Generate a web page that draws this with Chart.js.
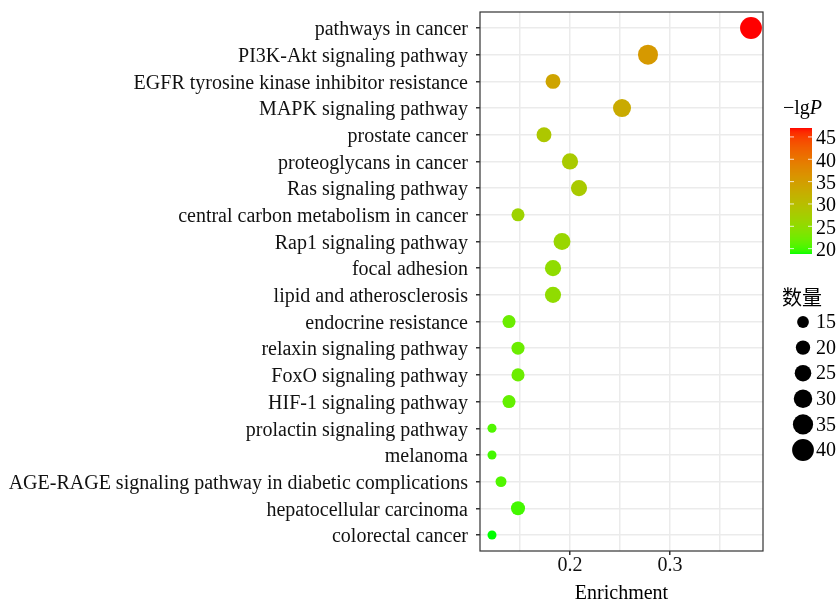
<!DOCTYPE html>
<html>
<head>
<meta charset="utf-8">
<script src="https://cdn.jsdelivr.net/npm/chart.js@4/dist/chart.umd.min.js"></script>
<style>
    html, body { margin: 0; padding: 0; background: #fff; }
    #wrap { width: 836px; height: 601px; }
</style>
</head>
<body>
<div id="wrap"><canvas id="dotChart" width="836" height="601"></canvas></div>
<script>
// ===== DATA =====
const categories = [
    "pathways in cancer",
    "PI3K-Akt signaling pathway",
    "EGFR tyrosine kinase inhibitor resistance",
    "MAPK signaling pathway",
    "prostate cancer",
    "proteoglycans in cancer",
    "Ras signaling pathway",
    "central carbon metabolism in cancer",
    "Rap1 signaling pathway",
    "focal adhesion",
    "lipid and atherosclerosis",
    "endocrine resistance",
    "relaxin signaling pathway",
    "FoxO signaling pathway",
    "HIF-1 signaling pathway",
    "prolactin signaling pathway",
    "melanoma",
    "AGE-RAGE signaling pathway in diabetic complications",
    "hepatocellular carcinoma",
    "colorectal cancer"
];

const enrichment = [0.381, 0.278, 0.183, 0.252, 0.174, 0.200, 0.209, 0.148, 0.192, 0.183,
                    0.183, 0.139, 0.148, 0.148, 0.139, 0.122, 0.122, 0.131, 0.148, 0.122];

const lgP = [47, 35.5, 34, 33, 28.5, 28, 28, 26.5, 26, 25,
             25, 22, 22, 22, 21.5, 20.5, 20, 20.5, 20, 18.8];

const counts = [43, 37, 23, 31, 23, 26, 26, 19, 28, 26,
                26, 19, 19, 19, 19, 12, 12, 15, 21, 12];

const xTicks = [0.2, 0.3];
const xMinorTicks = [0.15, 0.25, 0.35];
const xRange = [0.11, 0.393];

const colorBreaks = [20, 25, 30, 35, 40, 45];
const colorRange = [18.8, 47];
const sizeBreaks = [15, 20, 25, 30, 35, 40];

// ===== COLOUR / SIZE MAPPING =====
function toLinear(c) { c /= 255; return c <= 0.04045 ? c / 12.92 : Math.pow((c + 0.055) / 1.055, 2.4); }
function fromLinear(c) { const v = c <= 0.0031308 ? 12.92 * c : 1.055 * Math.pow(c, 1 / 2.4) - 0.055; return Math.round(Math.min(1, Math.max(0, v)) * 255); }

function rgbToLab(rgb) {
    const [r, g, b] = rgb.map(toLinear);
    let x = (r * 0.4124 + g * 0.3576 + b * 0.1805) / 0.95047;
    let y = (r * 0.2126 + g * 0.7152 + b * 0.0722);
    let z = (r * 0.0193 + g * 0.1192 + b * 0.9505) / 1.08883;
    const f = t => t > 0.008856 ? Math.cbrt(t) : 7.787 * t + 16 / 116;
    x = f(x); y = f(y); z = f(z);
    return [116 * y - 16, 500 * (x - y), 200 * (y - z)];
}

function labToRgb(lab) {
    const [L, a, bb] = lab;
    const fy = (L + 16) / 116, fx = fy + a / 500, fz = fy - bb / 200;
    const inv = t => t * t * t > 0.008856 ? t * t * t : (t - 16 / 116) / 7.787;
    const x = inv(fx) * 0.95047, y = inv(fy), z = inv(fz) * 1.08883;
    const r = x * 3.2406 + y * -1.5372 + z * -0.4986;
    const g = x * -0.9689 + y * 1.8758 + z * 0.0415;
    const b = x * 0.0557 + y * -0.2040 + z * 1.0570;
    return `rgb(${fromLinear(r)},${fromLinear(g)},${fromLinear(b)})`;
}

const labLow = rgbToLab([0, 255, 0]);
const labHigh = rgbToLab([255, 0, 0]);

function colourFor(v) {
    let t = (v - colorRange[0]) / (colorRange[1] - colorRange[0]);
    t = Math.min(1, Math.max(0, t));
    return labToRgb(labLow.map((l, i) => l + (labHigh[i] - l) * t));
}

function radiusFor(n) {
    return Math.sqrt(Math.max(4, 30 + 3.2 * (n - 15)));
}

const FONT = "'Liberation Serif'";

// ===== PLUGINS =====
const panelBorder = {
    id: "panelBorder",
    afterDatasetsDraw(chart) {
        const { ctx, chartArea: a } = chart;
        ctx.save();
        ctx.strokeStyle = "#333333";
        ctx.lineWidth = 1.2;
        ctx.strokeRect(a.left, a.top, a.right - a.left, a.bottom - a.top);
        ctx.restore();
    }
};

const legends = {
    id: "legends",
    afterDraw(chart) {
        const ctx = chart.ctx;
        ctx.save();
        ctx.fillStyle = "#000";
        ctx.textBaseline = "middle";

        // colour bar
        const barX = 790, barW = 22, barTop = 128, barBottom = 254;
        ctx.font = "20px " + FONT;
        ctx.fillText("\u2212lg", 783, 109);
        const w = ctx.measureText("\u2212lg").width;
        ctx.font = "italic 20px " + FONT;
        ctx.fillText("P", 783 + w, 109);

        for (let yy = barTop; yy < barBottom; yy++) {
            const v = colorRange[1] - (yy + 0.5 - barTop) / (barBottom - barTop) * (colorRange[1] - colorRange[0]);
            ctx.fillStyle = colourFor(v);
            ctx.fillRect(barX, yy, barW, 1);
        }
        ctx.font = "20px " + FONT;
        colorBreaks.forEach(v => {
            const yy = barTop + (colorRange[1] - v) / (colorRange[1] - colorRange[0]) * (barBottom - barTop);
            ctx.strokeStyle = "rgba(255,255,255,0.8)";
            ctx.lineWidth = 1;
            ctx.beginPath();
            ctx.moveTo(barX, yy); ctx.lineTo(barX + 4, yy);
            ctx.moveTo(barX + barW - 4, yy); ctx.lineTo(barX + barW, yy);
            ctx.stroke();
            ctx.fillStyle = "#000";
            ctx.fillText(String(v), 816, yy + 2);
        });

        // size legend
        ctx.font = "20px 'Noto Sans CJK SC'";
        ctx.fillText("数量", 782, 297);
        ctx.font = "20px " + FONT;
        sizeBreaks.forEach((n, i) => {
            const yy = 322 + i * 25.6;
            ctx.beginPath();
            ctx.arc(803, yy, radiusFor(n) + 0.4, 0, Math.PI * 2);
            ctx.fillStyle = "#000";
            ctx.fill();
            ctx.fillText(String(n), 816, yy + 1);
        });
        ctx.restore();
    }
};

// ===== CHART =====
const points = categories.map((c, i) => ({ x: enrichment[i], y: i }));

new Chart(document.getElementById("dotChart"), {
    type: "scatter",
    data: {
        datasets: [{
            data: points,
            pointRadius: ctx => radiusFor(counts[ctx.dataIndex]),
            pointHoverRadius: ctx => radiusFor(counts[ctx.dataIndex]),
            backgroundColor: ctx => colourFor(lgP[ctx.dataIndex]),
            borderWidth: 0
        }]
    },
    options: {
        responsive: false,
        animation: false,
        events: [],
        layout: { padding: { top: 12, right: 73, left: 0, bottom: 0 } },
        plugins: {
            legend: { display: false },
            tooltip: { enabled: false }
        },
        scales: {
            x: {
                type: "linear",
                min: xRange[0],
                max: xRange[1],
                afterBuildTicks: s => {
                    s.ticks = [...xMinorTicks, ...xTicks].sort().map(v => ({ value: v }));
                },
                afterFit: s => { s.height = 50; s.paddingLeft = 0; s.paddingRight = 0; },
                ticks: {
                    autoSkip: false,
                    maxRotation: 0,
                    padding: 1,
                    color: "#111",
                    font: { family: FONT, size: 20, lineHeight: 1 },
                    callback: v => xTicks.includes(v) ? v.toFixed(1) : ""
                },
                grid: {
                    color: "#ebebeb",
                    lineWidth: 1.5,
                    tickLength: 4,
                    tickColor: ctx => xTicks.includes(ctx.tick && ctx.tick.value) ? "#333333" : "rgba(0,0,0,0)"
                },
                border: { display: false },
                title: {
                    display: true,
                    text: "Enrichment",
                    color: "#000",
                    padding: { top: 0, bottom: -3 },
                    font: { family: FONT, size: 20, lineHeight: 1 }
                }
            },
            y: {
                type: "linear",
                reverse: true,
                min: -0.6,
                max: categories.length - 0.4,
                afterBuildTicks: s => {
                    s.ticks = categories.map((c, i) => ({ value: i }));
                },
                afterFit: s => { s.width = 480; s.paddingTop = 0; s.paddingBottom = 0; },
                ticks: {
                    autoSkip: false,
                    padding: 8,
                    labelOffset: 2,
                    color: "#111",
                    font: { family: FONT, size: 20, lineHeight: 1 },
                    callback: v => categories[v]
                },
                grid: {
                    color: "#ebebeb",
                    lineWidth: 1.5,
                    tickLength: 4,
                    tickColor: "#333333"
                },
                border: { display: false }
            }
        }
    },
    plugins: [panelBorder, legends]
});
</script>
</body>
</html>
